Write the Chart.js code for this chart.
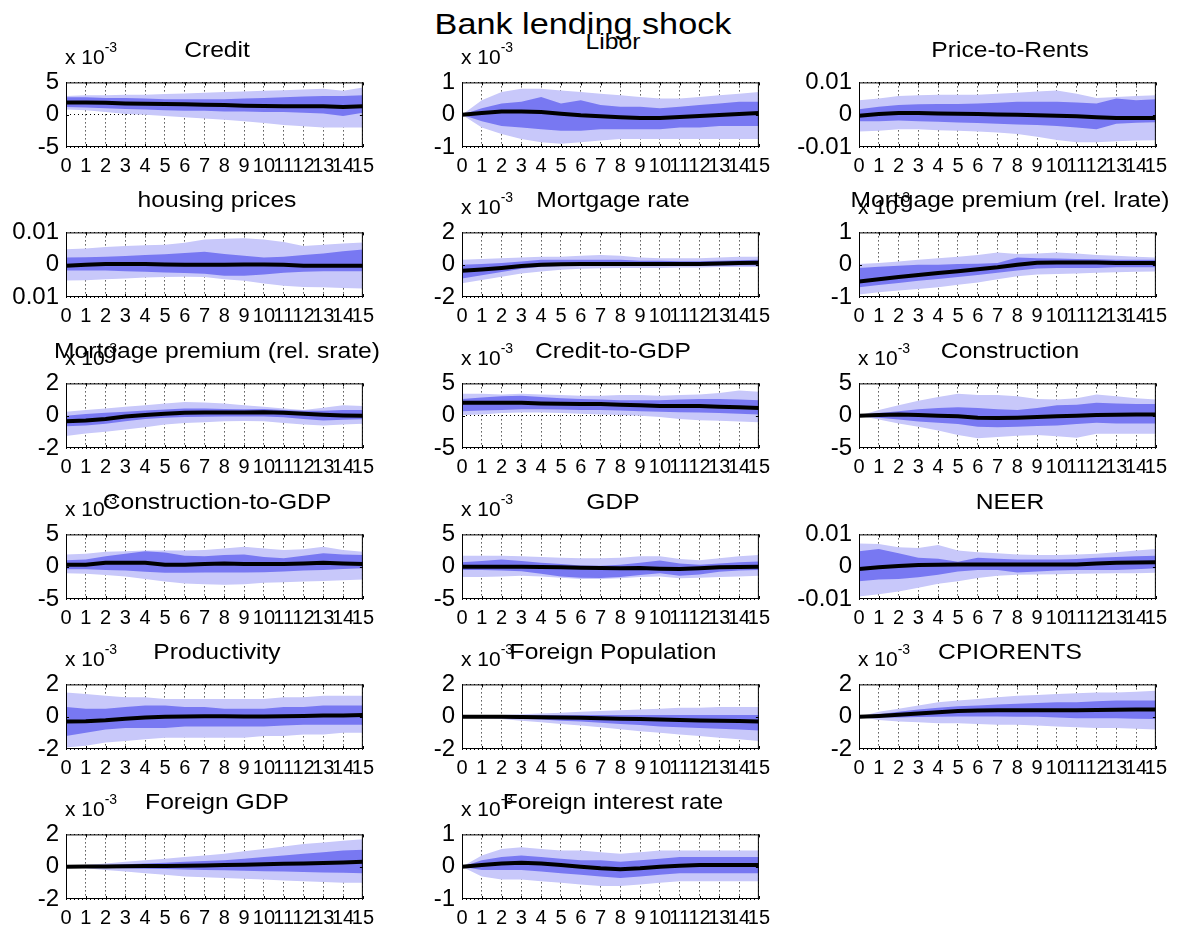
<!DOCTYPE html>
<html>
<head>
<meta charset="utf-8">
<title>Bank lending shock</title>
<script src="https://cdn.jsdelivr.net/npm/chart.js@4.4.1/dist/chart.umd.min.js"></script>
<style>
    html, body { margin: 0; padding: 0; background: #fff; }
    body {
        width: 1184px; height: 935px; position: relative; overflow: hidden;
        font-family: 'Liberation Sans', Arial, sans-serif; color: #000;
    }
    canvas { position: absolute; }
    .suptitle {
        position: absolute; left: 583px; top: 10px; white-space: nowrap;
        font-size: 29px; line-height: 29px;
        transform: translateX(-50%) scaleX(1.18);
    }
    .ptitle {
        position: absolute; white-space: nowrap;
        font-size: 22px; line-height: 22px;
        transform: translateX(-50%) scaleX(1.12);
    }
    .expo {
        position: absolute; white-space: nowrap;
        font-size: 21px; line-height: 21px;
    }
    .expo sup { font-size: 14px; vertical-align: baseline; position: relative; top: -12px; }
</style>
</head>
<body>
<div class="suptitle">Bank lending shock</div>
<script>
// horizons on the x axis
const horizons = [0, 1, 2, 3, 4, 5, 6, 7, 8, 9, 10, 11, 12, 13, 14, 15];

const titles = [
    'Credit', 'Libor', 'Price-to-Rents',
    'housing prices', 'Mortgage rate', 'Mortgage premium (rel. lrate)',
    'Mortgage premium (rel. srate)', 'Credit-to-GDP', 'Construction',
    'Construction-to-GDP', 'GDP', 'NEER',
    'Productivity', 'Foreign Population', 'CPIORENTS',
    'Foreign GDP', 'Foreign interest rate'
];

// panels drawn in units of 10^-3 carry the "x 10^-3" note
const hasExponent = [true, true, false, false, true, true, true, true, true, true, true, false, true, true, true, true, true];

const yMax = [5, 1, 0.01, 0.01, 2, 1, 2, 5, 5, 5, 5, 0.01, 2, 2, 2, 2, 1];

// bottom, middle, top
const yTickLabels = [
    ['-5', '0', '5'], ['-1', '0', '1'], ['-0.01', '0', '0.01'],
    ['0.01', '0', '0.01'], ['-2', '0', '2'], ['-1', '0', '1'],
    ['-2', '0', '2'], ['-5', '0', '5'], ['-5', '0', '5'],
    ['-5', '0', '5'], ['-5', '0', '5'], ['-0.01', '0', '0.01'],
    ['-2', '0', '2'], ['-2', '0', '2'], ['-2', '0', '2'],
    ['-2', '0', '2'], ['-1', '0', '1']
];

const median = [
    [1.9, 1.9, 1.85, 1.75, 1.7, 1.65, 1.6, 1.55, 1.5, 1.4, 1.35, 1.3, 1.3, 1.3, 1.2, 1.3],
    [0, 0.05, 0.1, 0.1, 0.08, 0.03, -0.02, -0.05, -0.08, -0.1, -0.1, -0.07, -0.04, -0.01, 0.02, 0.05],
    [-0.0003, 0.0002, 0.0005, 0.0005, 0.0004, 0.0003, 0.0002, 0.0001, 0, -0.0002, -0.0003, -0.0005, -0.0008, -0.001, -0.001, -0.001],
    [-0.0003, 0, 0.0002, 0.0002, 0.0002, 0.0001, 0, 0, 0, 0.0001, 0.0001, 0, -0.0003, -0.0003, -0.0003, -0.0003],
    [-0.38, -0.3, -0.2, -0.08, 0, 0.03, 0.05, 0.05, 0.05, 0.05, 0.05, 0.05, 0.05, 0.08, 0.1, 0.12],
    [-0.52, -0.45, -0.38, -0.32, -0.26, -0.2, -0.14, -0.08, 0, 0.06, 0.07, 0.07, 0.07, 0.05, 0.05, 0.05],
    [-0.35, -0.3, -0.2, -0.05, 0.05, 0.12, 0.18, 0.2, 0.2, 0.2, 0.22, 0.18, 0.12, 0.06, 0.02, 0],
    [2.0, 2.0, 2.0, 2.0, 1.9, 1.85, 1.8, 1.8, 1.7, 1.6, 1.5, 1.5, 1.5, 1.4, 1.3, 1.2],
    [0, 0.1, 0.2, 0.1, 0, -0.1, -0.3, -0.35, -0.3, -0.2, -0.1, 0, 0.1, 0.15, 0.2, 0.2],
    [0.3, 0.3, 0.6, 0.6, 0.6, 0.3, 0.3, 0.4, 0.5, 0.4, 0.4, 0.4, 0.5, 0.6, 0.5, 0.4],
    [0, 0, 0, 0, -0.05, -0.1, -0.15, -0.2, -0.25, -0.2, -0.3, -0.35, -0.25, -0.1, -0.05, 0],
    [-0.0007, -0.0002, 0.0002, 0.0005, 0.0006, 0.0007, 0.0007, 0.0007, 0.0007, 0.0007, 0.0007, 0.0007, 0.001, 0.0012, 0.0013, 0.0014],
    [-0.3, -0.28, -0.22, -0.12, -0.05, 0, 0.02, 0.03, 0.03, 0.02, 0.02, 0.03, 0.05, 0.07, 0.08, 0.1],
    [0, 0, -0.01, -0.02, -0.03, -0.05, -0.07, -0.1, -0.12, -0.15, -0.18, -0.2, -0.23, -0.25, -0.27, -0.3],
    [0, 0.05, 0.12, 0.2, 0.28, 0.35, 0.38, 0.4, 0.4, 0.4, 0.4, 0.4, 0.42, 0.43, 0.44, 0.45],
    [0, 0.01, 0.02, 0.03, 0.04, 0.05, 0.06, 0.08, 0.1, 0.12, 0.15, 0.18, 0.2, 0.23, 0.26, 0.3],
    [0, 0.05, 0.1, 0.12, 0.1, 0.05, 0, -0.05, -0.08, -0.05, 0, 0.03, 0.05, 0.05, 0.05, 0.05]
];

const innerLo = [
    [1.2, 1.1, 1.0, 0.9, 0.8, 0.7, 0.6, 0.6, 0.5, 0.5, 0.4, 0.4, 0.3, 0.2, -0.2, 0.3],
    [0, -0.2, -0.35, -0.4, -0.45, -0.5, -0.5, -0.45, -0.45, -0.45, -0.45, -0.4, -0.4, -0.35, -0.35, -0.35],
    [-0.002, -0.002, -0.0018, -0.002, -0.0022, -0.0024, -0.0026, -0.0028, -0.003, -0.0032, -0.0035, -0.004, -0.0045, -0.0028, -0.0025, -0.0023],
    [-0.0018, -0.0018, -0.0018, -0.002, -0.0022, -0.0024, -0.0026, -0.0028, -0.0034, -0.0034, -0.003, -0.0025, -0.0022, -0.002, -0.002, -0.002],
    [-0.85, -0.65, -0.45, -0.25, -0.12, -0.08, -0.08, -0.08, -0.07, -0.07, -0.07, -0.06, -0.06, -0.06, -0.05, -0.05],
    [-0.7, -0.63, -0.57, -0.5, -0.44, -0.38, -0.32, -0.25, -0.18, -0.12, -0.1, -0.1, -0.1, -0.08, -0.08, -0.08],
    [-0.65, -0.6, -0.5, -0.35, -0.2, -0.12, -0.08, -0.06, -0.05, -0.05, -0.05, -0.1, -0.2, -0.3, -0.25, -0.22],
    [0.7, 0.8, 0.9, 1.0, 1.0, 0.95, 0.9, 0.9, 0.8, 0.7, 0.6, 0.55, 0.5, 0.4, 0.3, 0.2],
    [0, -0.3, -0.6, -0.9, -1.1, -1.3, -1.7, -1.8, -1.7, -1.6, -1.5, -1.3, -1.1, -1.2, -1.2, -1.2],
    [-0.4, -0.4, -0.5, -0.6, -0.8, -0.95, -0.95, -0.9, -0.9, -0.9, -0.85, -0.75, -0.6, -0.5, -0.35, -0.25],
    [-0.5, -0.5, -0.6, -0.7, -1.1, -1.5, -1.7, -1.75, -1.6, -1.3, -1.0, -1.4, -1.2, -0.8, -0.6, -0.5],
    [-0.0045, -0.004, -0.0038, -0.0033, -0.0025, -0.0015, -0.001, -0.001, -0.0018, -0.0015, -0.0012, -0.001, -0.001, -0.001, -0.0008, -0.0005],
    [-1.2, -1.0, -0.8, -0.7, -0.7, -0.7, -0.6, -0.6, -0.6, -0.6, -0.6, -0.55, -0.5, -0.5, -0.5, -0.5],
    [0, -0.03, -0.07, -0.12, -0.18, -0.25, -0.3, -0.38, -0.45, -0.52, -0.6, -0.65, -0.7, -0.75, -0.8, -0.85],
    [0, -0.05, -0.05, -0.02, 0, 0.02, 0.02, 0.02, 0, 0, -0.05, -0.1, -0.1, -0.1, -0.12, -0.15],
    [0, -0.03, -0.06, -0.1, -0.12, -0.15, -0.18, -0.2, -0.22, -0.25, -0.28, -0.3, -0.33, -0.36, -0.38, -0.4],
    [0, -0.1, -0.1, -0.1, -0.15, -0.2, -0.25, -0.3, -0.35, -0.3, -0.25, -0.2, -0.2, -0.2, -0.2, -0.2]
];

const innerHi = [
    [2.7, 2.7, 2.6, 2.6, 2.5, 2.4, 2.4, 2.4, 2.4, 2.5, 2.6, 2.7, 2.8, 2.9, 2.9, 3.0],
    [0, 0.2, 0.35, 0.4, 0.55, 0.35, 0.45, 0.3, 0.25, 0.25, 0.2, 0.25, 0.3, 0.35, 0.4, 0.4],
    [0.0017, 0.0025, 0.003, 0.0032, 0.0033, 0.0033, 0.0035, 0.0037, 0.004, 0.004, 0.004, 0.0038, 0.0035, 0.005, 0.0045, 0.0048],
    [0.0022, 0.0023, 0.0025, 0.0027, 0.003, 0.0032, 0.0036, 0.004, 0.0033, 0.0028, 0.0022, 0.0025, 0.003, 0.0035, 0.0042, 0.0047],
    [0, 0.05, 0.1, 0.2, 0.3, 0.3, 0.3, 0.3, 0.3, 0.25, 0.25, 0.22, 0.22, 0.25, 0.28, 0.3],
    [-0.1, -0.06, -0.03, 0, 0, 0.02, 0.03, 0.05, 0.22, 0.2, 0.19, 0.18, 0.17, 0.15, 0.15, 0.15],
    [0, 0.1, 0.18, 0.25, 0.32, 0.38, 0.45, 0.45, 0.42, 0.4, 0.42, 0.35, 0.3, 0.3, 0.35, 0.35],
    [2.6, 2.8, 3.0, 3.1, 2.9, 2.7, 2.6, 2.5, 2.4, 2.4, 2.4, 2.5, 2.6, 2.6, 2.5, 2.4],
    [0, 0.4, 0.7, 1.0, 1.2, 1.3, 1.2, 1.0, 0.9, 1.2, 1.6, 1.7, 2.0, 1.9, 1.8, 1.8],
    [1.0, 1.1, 1.6, 2.0, 2.4, 2.2, 1.7, 1.6, 1.8, 1.9, 1.5, 1.3, 1.7, 2.1, 1.9, 1.8],
    [0.7, 0.9, 1.1, 0.9, 0.6, 0.4, 0.2, 0.15, 0.3, 0.6, 0.95, 0.5, 0.3, 0.5, 0.7, 0.8],
    [0.0048, 0.0055, 0.0042, 0.0028, 0.0025, 0.0015, 0.0028, 0.0025, 0.0022, 0.0022, 0.0022, 0.0024, 0.0028, 0.003, 0.0032, 0.0034],
    [0.6, 0.5, 0.5, 0.6, 0.7, 0.7, 0.6, 0.6, 0.5, 0.5, 0.5, 0.6, 0.6, 0.7, 0.7, 0.7],
    [0, 0.03, 0.05, 0.08, 0.1, 0.1, 0.1, 0.1, 0.1, 0.1, 0.1, 0.1, 0.1, 0.1, 0.1, 0.1],
    [0, 0.15, 0.3, 0.45, 0.55, 0.65, 0.7, 0.75, 0.8, 0.85, 0.9, 0.9, 0.95, 1.0, 1.0, 1.0],
    [0, 0.05, 0.1, 0.15, 0.2, 0.25, 0.3, 0.35, 0.4, 0.5, 0.6, 0.7, 0.8, 0.9, 1.0, 1.05],
    [0, 0.2, 0.3, 0.35, 0.3, 0.25, 0.2, 0.2, 0.15, 0.2, 0.25, 0.3, 0.3, 0.3, 0.3, 0.3]
];

const outerLo = [
    [0.8, 0.7, 0.4, 0.1, 0, -0.2, -0.4, -0.6, -0.8, -1.0, -1.3, -1.6, -1.8, -2.0, -2.0, -2.0],
    [0, -0.4, -0.6, -0.75, -0.85, -0.9, -0.85, -0.8, -0.75, -0.75, -0.75, -0.75, -0.75, -0.75, -0.75, -0.75],
    [-0.0052, -0.005, -0.0045, -0.0045, -0.0048, -0.005, -0.0052, -0.0055, -0.006, -0.0068, -0.0078, -0.0085, -0.0085, -0.0082, -0.008, -0.0079],
    [-0.0049, -0.0048, -0.0045, -0.0043, -0.004, -0.0038, -0.0037, -0.0038, -0.0045, -0.005, -0.0058, -0.0065, -0.0069, -0.007, -0.0072, -0.0074],
    [-1.15, -0.95, -0.75, -0.55, -0.42, -0.32, -0.25, -0.22, -0.2, -0.2, -0.2, -0.18, -0.18, -0.15, -0.15, -0.15],
    [-0.92, -0.85, -0.8, -0.75, -0.7, -0.62, -0.55, -0.45, -0.36, -0.3, -0.29, -0.27, -0.25, -0.23, -0.22, -0.21],
    [-1.25, -1.1, -1.0, -0.85, -0.72, -0.55, -0.45, -0.4, -0.35, -0.33, -0.35, -0.45, -0.55, -0.6, -0.55, -0.5],
    [0.1, 0.2, 0.4, 0.5, 0.5, 0.4, 0.3, 0.2, 0.1, 0, -0.2, -0.5, -0.7, -0.8, -0.9, -1.0],
    [0, -0.6, -1.2, -1.7, -2.3, -3.0, -3.5, -3.3, -3.1, -3.0, -3.2, -3.4, -2.8, -2.8, -2.8, -2.8],
    [-1.0, -1.1, -1.3, -1.5, -1.9, -2.3, -2.6, -2.7, -2.8, -2.7, -2.5, -2.4, -2.3, -2.2, -2.1, -2.0],
    [-1.6, -1.6, -1.5, -1.4, -1.5, -1.7, -1.9, -1.9, -1.8, -1.6, -1.5, -1.8, -1.7, -1.6, -1.5, -1.4],
    [-0.0092, -0.0085, -0.0077, -0.0065, -0.0053, -0.0045, -0.0035, -0.0028, -0.0025, -0.0024, -0.0023, -0.0022, -0.0021, -0.002, -0.002, -0.0019],
    [-1.9, -1.8, -1.6, -1.5, -1.4, -1.3, -1.3, -1.3, -1.3, -1.3, -1.2, -1.2, -1.1, -1.1, -1.0, -1.0],
    [0, -0.08, -0.15, -0.25, -0.35, -0.45, -0.55, -0.65, -0.78, -0.9, -1.0, -1.1, -1.2, -1.3, -1.4, -1.5],
    [0, -0.2, -0.3, -0.35, -0.4, -0.4, -0.45, -0.5, -0.5, -0.55, -0.6, -0.65, -0.7, -0.7, -0.75, -0.8],
    [0, -0.1, -0.2, -0.3, -0.4, -0.5, -0.6, -0.65, -0.7, -0.75, -0.8, -0.85, -0.9, -0.95, -1.0, -1.0],
    [0, -0.3, -0.4, -0.4, -0.45, -0.5, -0.55, -0.6, -0.6, -0.55, -0.5, -0.45, -0.45, -0.45, -0.45, -0.45]
];

const outerHi = [
    [2.9, 3.0, 3.0, 3.1, 3.1, 3.2, 3.3, 3.4, 3.5, 3.6, 3.7, 3.8, 3.9, 4.0, 3.7, 4.2],
    [0, 0.45, 0.7, 0.8, 0.8, 0.75, 0.7, 0.65, 0.6, 0.55, 0.5, 0.5, 0.55, 0.6, 0.65, 0.7],
    [0.0045, 0.005, 0.0058, 0.006, 0.0062, 0.0062, 0.0062, 0.0065, 0.0068, 0.0072, 0.0075, 0.0065, 0.0052, 0.0055, 0.0058, 0.006],
    [0.0048, 0.005, 0.0055, 0.0058, 0.006, 0.0062, 0.0068, 0.0078, 0.008, 0.0082, 0.0078, 0.007, 0.0058, 0.0062, 0.0066, 0.0069],
    [0.3, 0.35, 0.4, 0.45, 0.5, 0.5, 0.55, 0.6, 0.55, 0.45, 0.4, 0.4, 0.4, 0.45, 0.5, 0.5],
    [0.02, 0.05, 0.1, 0.15, 0.2, 0.25, 0.3, 0.38, 0.33, 0.35, 0.38, 0.35, 0.3, 0.28, 0.25, 0.22],
    [0.25, 0.35, 0.45, 0.55, 0.65, 0.75, 0.85, 0.82, 0.75, 0.65, 0.55, 0.45, 0.35, 0.5, 0.65, 0.6],
    [3.4, 3.4, 3.3, 3.4, 3.3, 3.2, 3.1, 3.1, 3.2, 3.2, 3.1, 3.2, 3.3, 3.5, 3.9, 3.7],
    [0, 0.9, 1.6, 2.3, 2.9, 3.4, 3.2, 3.2, 3.0, 2.6, 2.5, 2.7, 3.3, 3.0, 2.7, 2.5],
    [1.9, 2.0, 2.3, 2.4, 2.5, 2.5, 2.5, 2.6, 2.8, 3.1, 2.8, 2.6, 2.7, 3.1, 2.6, 2.3],
    [1.7, 1.7, 1.7, 1.6, 1.5, 1.4, 1.3, 1.3, 1.4, 1.6, 1.6, 1.2, 1.0, 1.3, 1.6, 1.8],
    [0.0072, 0.007, 0.006, 0.0058, 0.0067, 0.005, 0.0045, 0.0042, 0.0038, 0.0036, 0.0036, 0.0038, 0.004, 0.0045, 0.005, 0.0055],
    [1.5, 1.4, 1.3, 1.2, 1.2, 1.1, 1.1, 1.1, 1.1, 1.1, 1.1, 1.2, 1.2, 1.3, 1.3, 1.3],
    [0, 0.05, 0.1, 0.15, 0.2, 0.25, 0.3, 0.35, 0.4, 0.45, 0.5, 0.55, 0.55, 0.6, 0.6, 0.6],
    [0, 0.3, 0.5, 0.7, 0.9, 1.0, 1.1, 1.2, 1.3, 1.35, 1.4, 1.45, 1.5, 1.5, 1.55, 1.6],
    [0, 0.1, 0.2, 0.3, 0.4, 0.5, 0.6, 0.7, 0.8, 0.95, 1.1, 1.25, 1.4, 1.5, 1.6, 1.7],
    [0, 0.35, 0.55, 0.6, 0.55, 0.5, 0.5, 0.45, 0.4, 0.45, 0.5, 0.5, 0.5, 0.5, 0.5, 0.5]
];

// layout of the 6 x 3 grid (plot area edges, px)
const colLeft = [66, 462, 859];
const rowTop = [77, 227, 378, 529, 679, 829];
const plotW = 301;
const plotH = 70;
const padL = 80, padT = 16, padR = 14, padB = 32;

const lightBlue = '#c8c8fa';
const darkBlue = '#7878f2';
const fontFamily = "'Liberation Sans', Arial, sans-serif";

function points(arr) {
    return horizons.map((h, k) => ({ x: h, y: arr[k] }));
}

// axes box plus small inward tick marks, drawn on top
const boxPlugin = {
    id: 'box',
    afterDraw(chart) {
        const { ctx, chartArea: a, scales } = chart;
        ctx.save();
        ctx.strokeStyle = '#000';
        ctx.lineWidth = 1;
        ctx.strokeRect(a.left + 0.5, a.top + 0.5, a.right - a.left - 1, a.bottom - a.top - 1);
        ctx.beginPath();
        scales.x.ticks.forEach(t => {
            const px = Math.round(scales.x.getPixelForValue(t.value)) + 0.5;
            ctx.moveTo(px, a.top); ctx.lineTo(px, a.top + 3);
            ctx.moveTo(px, a.bottom); ctx.lineTo(px, a.bottom - 3);
        });
        const py = Math.round(scales.y.getPixelForValue(0)) + 0.5;
        ctx.moveTo(a.left, py); ctx.lineTo(a.left + 3, py);
        ctx.moveTo(a.right, py); ctx.lineTo(a.right - 3, py);
        ctx.stroke();
        ctx.restore();
    }
};

function makePanel(i) {
    const col = i % 3;
    const row = Math.floor(i / 3);
    const axL = colLeft[col];
    const axT = rowTop[row];

    const canvas = document.createElement('canvas');
    canvas.width = padL + plotW + padR;
    canvas.height = padT + plotH + padB;
    canvas.style.left = (axL - padL) + 'px';
    canvas.style.top = (axT - padT) + 'px';
    canvas.style.width = canvas.width + 'px';
    canvas.style.height = canvas.height + 'px';
    document.body.appendChild(canvas);

    // panel title
    const t = document.createElement('div');
    t.className = 'ptitle';
    t.textContent = titles[i];
    const lift = i === 1 ? 8 : 0;
    t.style.left = (axL + plotW / 2) + 'px';
    t.style.top = (axT - 38 - lift) + 'px';
    document.body.appendChild(t);

    if (hasExponent[i]) {
        const e = document.createElement('div');
        e.className = 'expo';
        e.innerHTML = 'x 10<sup>-3</sup>';
        e.style.left = (axL - 1) + 'px';
        e.style.top = (axT - 31) + 'px';
        document.body.appendChild(e);
    }

    const band = { pointRadius: 0, borderWidth: 0, borderColor: 'transparent', tension: 0 };

    // lower "order" is painted on top: median > inner band > outer band
    new Chart(canvas, {
        type: 'line',
        data: {
            datasets: [
                { ...band, order: 2, data: points(outerLo[i]), fill: false },
                { ...band, order: 2, data: points(outerHi[i]), fill: '-1', backgroundColor: lightBlue },
                { ...band, order: 1, data: points(innerLo[i]), fill: false },
                { ...band, order: 1, data: points(innerHi[i]), fill: '-1', backgroundColor: darkBlue },
                { order: 0, data: points(median[i]), fill: false, pointRadius: 0, borderWidth: 4, borderColor: '#000', tension: 0 }
            ]
        },
        options: {
            responsive: false,
            animation: false,
            devicePixelRatio: 1,
            layout: { padding: { left: 0, top: padT, right: padR, bottom: 0 } },
            plugins: {
                legend: { display: false },
                tooltip: { enabled: false }
            },
            scales: {
                x: {
                    type: 'linear',
                    min: 0,
                    max: 15,
                    z: 1,
                    afterFit: s => { s.height = padB; },
                    grid: { color: '#000', lineWidth: 1, drawTicks: false },
                    border: { display: false, dash: [1, 3] },
                    ticks: {
                        stepSize: 1,
                        autoSkip: false,
                        maxRotation: 0,
                        minRotation: 0,
                        padding: 7,
                        color: '#000',
                        font: { family: fontFamily, size: 20 }
                    }
                },
                y: {
                    min: -yMax[i],
                    max: yMax[i],
                    z: 1,
                    afterFit: s => { s.width = padL; },
                    afterBuildTicks: s => {
                        s.ticks = [{ value: -yMax[i] }, { value: 0 }, { value: yMax[i] }];
                    },
                    grid: { color: '#000', lineWidth: 1, drawTicks: false },
                    border: { display: false, dash: [1, 3] },
                    ticks: {
                        padding: 7,
                        color: '#000',
                        font: { family: fontFamily, size: 24 },
                        callback: (v, idx) => yTickLabels[i][idx]
                    }
                }
            }
        },
        plugins: [boxPlugin]
    });
}

document.addEventListener('DOMContentLoaded', function () {
    for (let i = 0; i < titles.length; i++) {
        makePanel(i);
    }
});
</script>
</body>
</html>
